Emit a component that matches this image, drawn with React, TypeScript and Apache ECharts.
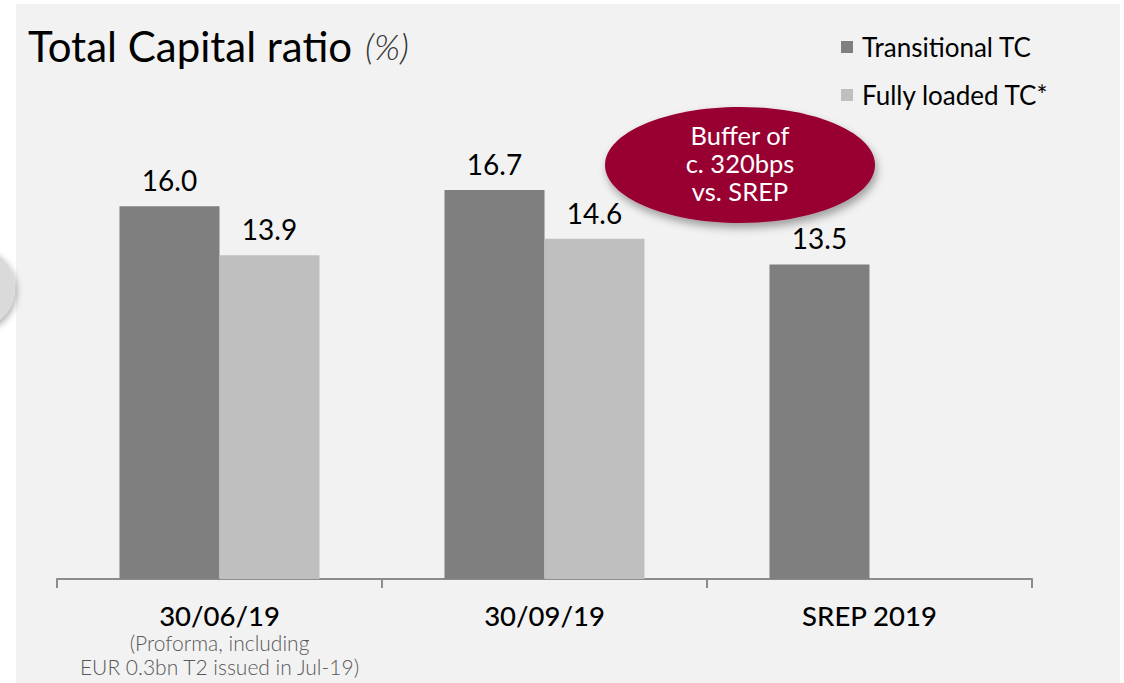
import React, { useEffect, useRef } from "react";
import * as echarts from "echarts";

const categories = ["30/06/19", "30/09/19", "SREP 2019"];
const categoryNotes = [["(Proforma, including", "EUR 0.3bn T2 issued in Jul-19)"], [], []];
const transitionalTC = [16.0, 16.7, 13.5];
const fullyLoadedTC: (number | null)[] = [13.9, 14.6, null];
const seriesNames = ["Transitional TC", "Fully loaded TC*"];
const bubbleLines = ["Buffer of", "c. 320bps", "vs. SREP"];

const FONT = "Lato, 'Noto Sans', sans-serif";

export default function App() {
  const ref = useRef<HTMLDivElement>(null);
  useEffect(() => {
    if (!ref.current) return;
    const chart = echarts.init(ref.current, null, { renderer: "svg" });
    const barLabel = {
      show: true,
      position: "top",
      distance: 12,
      formatter: (p: any) => Number(p.value).toFixed(1),
      fontFamily: FONT,
      fontSize: 28,
      color: "#000000",
    };
    chart.setOption({
      animation: false,
      backgroundColor: "#ffffff",
      textStyle: { fontFamily: FONT },
      title: {
        text: "{a|Total Capital ratio}{b|(%)}",
        left: 23,
        top: 20,
        textStyle: {
          rich: {
            a: { fontFamily: FONT, fontSize: 42, color: "#000000", fontWeight: "normal" },
            b: {
              fontFamily: FONT,
              fontSize: 36,
              color: "#333333",
              fontStyle: "italic",
              fontWeight: 300,
              padding: [0, 0, 0, 13],
            },
          },
        },
      },
      legend: {
        orient: "vertical",
        left: 836,
        top: 29,
        itemWidth: 12,
        itemHeight: 12,
        itemGap: 22,
        icon: "rect",
        data: seriesNames,
        textStyle: { fontFamily: FONT, fontSize: 26, color: "#000000", lineHeight: 26, padding: [0, 0, 0, 4] },
      },
      grid: { left: 57, right: 92, top: 113, bottom: 104 },
      xAxis: {
        type: "category",
        data: categories,
        axisLine: { show: true, lineStyle: { color: "#8c8c8c", width: 2 } },
        axisTick: { show: true, length: 9, interval: 0, lineStyle: { color: "#8c8c8c", width: 2 } },
        axisLabel: {
          margin: 21,
          verticalAlign: "top",
          formatter: (value: string, idx: number) => {
            const notes = categoryNotes[idx] || [];
            return [`{a|${value}}`, ...notes.map((n) => `{b|${n}}`)].join("\n");
          },
          rich: {
            a: { fontFamily: FONT, fontSize: 27.5, color: "#000000", lineHeight: 30, fontWeight: 500 },
            b: { fontFamily: FONT, fontSize: 21, color: "#595959", lineHeight: 24, fontWeight: 300 },
          },
        },
      },
      yAxis: { type: "value", min: 0, max: 20, show: false, splitLine: { show: false } },
      series: [
        {
          name: seriesNames[0],
          type: "bar",
          data: transitionalTC,
          barWidth: 100,
          barGap: "0%",
          itemStyle: { color: "#7f7f7f" },
          label: barLabel,
        },
        {
          name: seriesNames[1],
          type: "bar",
          data: fullyLoadedTC,
          barWidth: 100,
          barGap: "0%",
          itemStyle: { color: "#bfbfbf" },
          label: barLabel,
        },
      ],
      graphic: [
        {
          type: "rect",
          z: -10,
          silent: true,
          shape: { x: 16, y: 4, width: 1104, height: 679 },
          style: { fill: "#f2f2f2" },
        },
        {
          type: "circle",
          z: -5,
          silent: true,
          shape: { cx: -26, cy: 288, r: 41 },
          style: {
            fill: "#dadada",
            shadowBlur: 6,
            shadowOffsetX: 2,
            shadowOffsetY: 3,
            shadowColor: "rgba(0,0,0,0.3)",
          },
        },
        {
          type: "ellipse",
          z: 10,
          silent: true,
          shape: { cx: 740, cy: 165, rx: 135, ry: 58 },
          style: {
            fill: "#990033",
            shadowBlur: 8,
            shadowOffsetX: 2,
            shadowOffsetY: 5,
            shadowColor: "rgba(0,0,0,0.35)",
          },
        },
        {
          type: "text",
          z: 11,
          silent: true,
          x: 740,
          y: 163,
          style: {
            text: bubbleLines.join("\n"),
            fill: "#ffffff",
            fontFamily: FONT,
            fontSize: 25.5,
            lineHeight: 28,
            align: "center",
            verticalAlign: "middle",
          },
        },
      ],
    });
    return () => chart.dispose();
  }, []);
  return (
    <div style={{ position: "fixed", left: 0, top: 0, width: 1124, height: 683 }}>
      <div ref={ref} style={{ width: 1124, height: 683 }} />
    </div>
  );
}
